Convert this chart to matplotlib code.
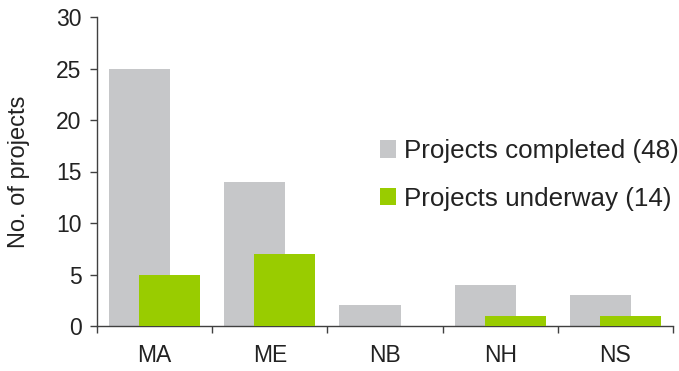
import numpy as np
import matplotlib.pyplot as plt

plt.rcParams['font.family'] = ['Liberation Sans', 'DejaVu Sans']

regions = ['MA', 'ME', 'NB', 'NH', 'NS']
completed = [25, 14, 2, 4, 3]
underway = [5, 7, 0, 1, 1]

grey = '#c6c7c9'
green = '#99cc00'
axcol = '#404040'

fig = plt.figure(figsize=(6.79, 3.71), dpi=100)
ax = fig.add_axes([97/679, 1 - 326/371, 576/679, 309/371])

x = np.arange(len(regions))
w = 0.53
ax.bar(x - 0.13, completed, w, color=grey, label='Projects completed (48)', zorder=2)
ax.bar(x + 0.13, underway, w, color=green, label='Projects underway (14)', zorder=3)

ax.set_xlim(-0.5, len(regions) - 0.5)
ax.set_ylim(0, 30)
ax.set_yticks(range(0, 31, 5))
ax.set_xticks(x)
ax.set_xticklabels(regions)
ax.set_xticks(np.arange(-0.5, len(regions)), minor=True)
ax.tick_params(axis='x', which='major', length=0, pad=13, labelsize=16.5, colors='#222222')
ax.tick_params(axis='x', which='minor', length=5, width=1, color=axcol, direction='out')
ax.tick_params(axis='y', length=5, width=1, color=axcol, labelsize=16.5, labelcolor='#222222', pad=6)

for s in ['top', 'right']:
    ax.spines[s].set_visible(False)
for s in ['left', 'bottom']:
    ax.spines[s].set_color(axcol)
    ax.spines[s].set_linewidth(1)

ax.set_ylabel('No. of projects', fontsize=17, color='#222222', labelpad=19)

ax.legend(loc='upper left', bbox_to_anchor=(0.45, 0.68), frameon=False,
          fontsize=18.7, handlelength=0.65, handleheight=0.65, handletextpad=0.3,
          labelspacing=0.9, labelcolor='#222222')

fig.savefig('out.png', dpi=100)
